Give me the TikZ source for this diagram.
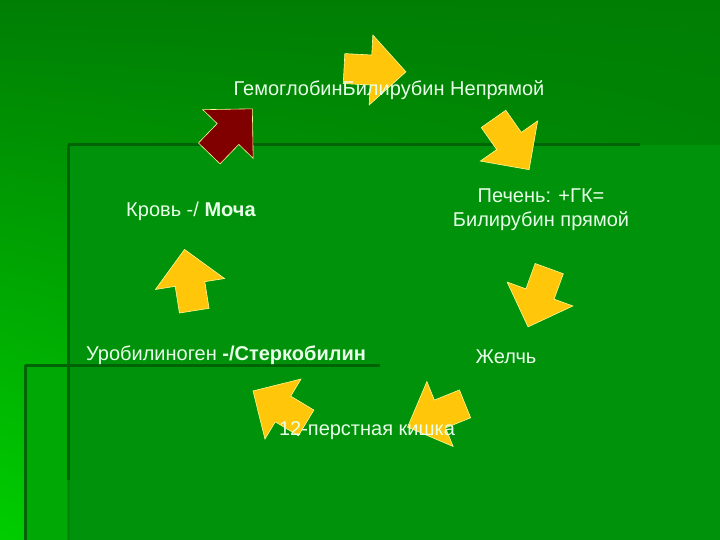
\documentclass[tikz,border=0pt]{standalone}
\usepackage{fontspec}
\setmainfont{Liberation Sans}
\usetikzlibrary{shadings}
\definecolor{bgtop}{RGB}{0,126,4}
\definecolor{bgbright}{RGB}{0,205,0}
\definecolor{bgmid}{RGB}{0,150,8}
\definecolor{panelleft}{RGB}{0,168,6}
\definecolor{panelmain}{RGB}{0,146,10}
\definecolor{stripe}{RGB}{0,100,6}
\definecolor{arrowfill}{RGB}{255,198,10}
\definecolor{arrowrim}{RGB}{255,250,150}
\definecolor{darkred}{RGB}{128,0,0}
\definecolor{paletext}{RGB}{232,255,232}
\tikzset{
  stripeline/.style={draw=stripe, line width=3pt},
  yellowarrow/.style={fill=arrowfill, draw=arrowrim, line width=0.6pt},
  redarrow/.style={fill=darkred, draw=arrowrim, line width=0.6pt},
  txt/.style={text=paletext, font=\fontsize{20}{24}\selectfont, align=center, inner sep=0pt},
  pics/blockarrow/.style={code={
    \draw[#1] (35,0) -- (0,35) -- (0,15) -- (-27,15) -- (-27,-15) -- (0,-15) -- (0,-35) -- cycle;
  }},
  pics/blockarrow/.default=yellowarrow
}
\begin{document}
\begin{tikzpicture}[x=1pt,y=-1pt]
  \useasboundingbox (0,0) rectangle (720,540);
  % background and panels
  \shade[upper left=bgtop, upper right=bgtop, lower left=bgbright, lower right=bgmid]
    (0,0) rectangle (720,540);
  \fill[panelleft] (25,365) rectangle (720,540);
  \fill[panelmain] (68,145) rectangle (720,540);
  \draw[stripeline] (68,145) -- (640,145);
  \draw[stripeline] (68,145) -- (68,480);
  \draw[stripeline, opacity=0.35] (68,480) -- (68,540);
  \draw[stripeline] (25,365) -- (380,365);
  \draw[stripeline] (25,365) -- (25,540);
  % arrows round the cycle
  \pic[rotate=-3] at (371,70) {blockarrow};
  \pic[rotate=-55] at (509,141) {blockarrow};
  \pic[rotate=-110] at (540,294) {blockarrow};
  \pic[rotate=202] at (440,414) {blockarrow};
  \pic[rotate=149] at (283,409) {blockarrow};
  \pic[rotate=99] at (190,284) {blockarrow};
  \pic[rotate=46] at (228,134) {blockarrow=redarrow};
  % labels
  \node[txt] (hemo) at (389,90) {ГемоглобинБилирубин Непрямой};
  \node[txt] (liver) at (541,210) {Печень: +ГК=\\Билирубин прямой};
  \node[txt] (bile) at (506,357) {Желчь};
  \node[txt] (duod) at (367,431) {12-перстная кишка};
  \node[txt] (uro) at (226,355) {Уробилиноген \textbf{-/Стеркобилин}};
  \node[txt] (blood) at (191,211) {Кровь -/ \textbf{Моча}};
\end{tikzpicture}
\end{document}
